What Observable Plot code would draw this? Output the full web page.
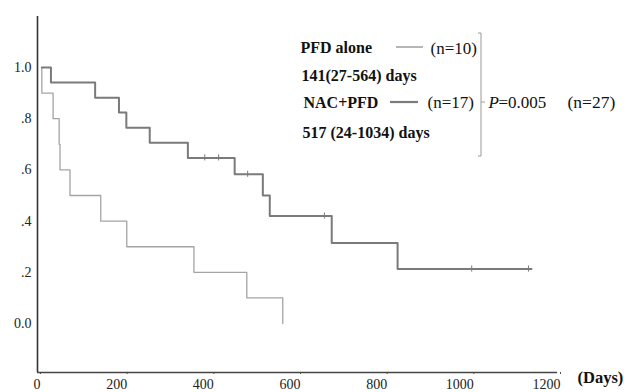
<!DOCTYPE html>
<html>
<head>
<meta charset="utf-8">
<script src="https://cdn.jsdelivr.net/npm/d3@7"></script>
<script src="https://cdn.jsdelivr.net/npm/@observablehq/plot@0.6"></script>
<style>
  html, body { margin: 0; padding: 0; background: #fff; }
  svg { font-family: "Liberation Serif", "DejaVu Serif", serif; }
</style>
</head>
<body>
<div id="chart"></div>
<script>
// PFD alone (n=10): step points (days, survival)
const pfdDays = [10, 10, 36, 50, 52, 75, 146, 206, 361, 483, 566];
const pfdSurv = [1.0, 0.9, 0.8, 0.7, 0.6, 0.5, 0.4, 0.3, 0.2, 0.1, 0.0];

// NAC+PFD (n=17)
const nacDays = [10, 31, 133, 188, 205, 259, 347, 455, 520, 536, 679, 831, 1140];
const nacSurv = [1.0, 0.941, 0.882, 0.824, 0.765, 0.706, 0.647, 0.583, 0.500, 0.420, 0.315, 0.213, 0.213];

// censored observations on NAC+PFD
const nacCensorDays = [386, 418, 485, 662, 1002, 1133];
const nacCensorSurv = [0.647, 0.647, 0.583, 0.420, 0.213, 0.213];

const xTicks = [0, 200, 400, 600, 800, 1000, 1200];
const xTickLabels = ["0", "200", "400", "600", "800", "1000", "1200"];
const yTicks = [0, 0.2, 0.4, 0.6, 0.8, 1.0];
const yTickLabels = ["0.0", ".2", ".4", ".6", ".8", "1.0"];

const pfd = pfdDays.map((d, i) => ({day: d, s: pfdSurv[i]}));
const nac = nacDays.map((d, i) => ({day: d, s: nacSurv[i]}));
const cens = nacCensorDays.map((d, i) => ({day: d, s: nacCensorSurv[i]}));

const darkCol = "#7a7a7a";
const lightCol = "#a4a4a4";
const yMin = -0.191, yMax = 1.199;
const ML = 37, MT = 16;

function note(text, px, py, opts = {}) {
  return Plot.text([text], {
    text: d => d, frameAnchor: "top-left", dx: px - ML, dy: py - MT,
    textAnchor: "start", lineAnchor: "middle", fill: "#111",
    fontSize: 16, ...opts
  });
}

const plot = Plot.plot({
  width: 624, height: 392,
  marginLeft: ML, marginRight: 67, marginTop: MT, marginBottom: 20,
  style: {fontFamily: "Liberation Serif", background: "#fff", overflow: "visible"},
  x: {domain: [0, 1200], ticks: xTicks, label: null},
  y: {domain: [yMin, yMax], ticks: yTicks, label: null},
  marks: [
    Plot.axisX({ticks: xTicks, tickSize: 2, tickPadding: 5, fontSize: 14, label: null,
      tickFormat: d => xTickLabels[xTicks.indexOf(d)], textAnchor: "end", dx: 3,
      stroke: "#555", color: "#222"}),
    Plot.axisY({ticks: yTicks, tickSize: 0, tickPadding: 6, fontSize: 14, label: null,
      tickFormat: d => yTickLabels[yTicks.indexOf(d)], color: "#222"}),
    Plot.ruleX([0], {stroke: "#333", strokeWidth: 1.6}),
    Plot.ruleY([yMin], {stroke: "#444", strokeWidth: 1.4}),
    Plot.line(pfd, {x: "day", y: "s", curve: "step-after", stroke: lightCol, strokeWidth: 1.3}),
    Plot.line(nac, {x: "day", y: "s", curve: "step-after", stroke: darkCol, strokeWidth: 2}),
    Plot.ruleX(cens, {x: "day", y1: d => d.s - 0.012, y2: d => d.s + 0.012, stroke: darkCol, strokeWidth: 1}),
    note("PFD alone", 300, 47, {fontWeight: "bold"}),
    note("(n=10)", 430, 48, {fontSize: 17}),
    note("141(27-564) days", 301, 75, {fontWeight: "bold"}),
    note("NAC+PFD", 303, 102, {fontWeight: "bold"}),
    note("(n=17)", 427, 102, {fontSize: 17}),
    note("517 (24-1034) days", 302, 132, {fontWeight: "bold"}),
    note("P", 488, 102, {fontStyle: "italic", fontSize: 17}),
    note("=0.005", 498, 102, {fontSize: 17}),
    note("(n=27)", 567, 102, {fontSize: 17.5}),
    note("(Days)", 577, 377, {fontWeight: "bold", fontSize: 16.5})
  ]
});

const svg = d3.select(plot);
const g = svg.append("g");
// legend swatches
g.append("line").attr("x1", 396).attr("x2", 423).attr("y1", 47).attr("y2", 47)
  .attr("stroke", lightCol).attr("stroke-width", 1.6);
g.append("line").attr("x1", 390).attr("x2", 418).attr("y1", 102).attr("y2", 102)
  .attr("stroke", darkCol).attr("stroke-width", 2.2);
// bracket
g.append("path").attr("d", "M478,33 H481 V156 H478 M481,102 H485")
  .attr("fill", "none").attr("stroke", "#999").attr("stroke-width", 1);

document.getElementById("chart").appendChild(plot);
</script>
</body>
</html>
